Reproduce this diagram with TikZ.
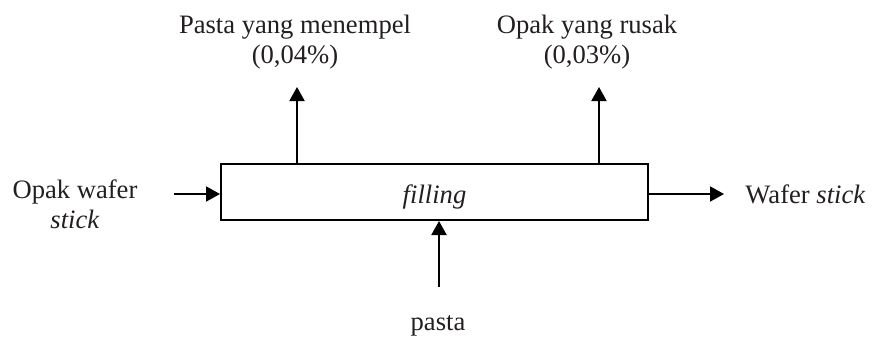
\documentclass[tikz,border=0pt]{standalone}
\usepackage{fontspec}
\setmainfont{Liberation Serif}
\usetikzlibrary{arrows.meta}
\definecolor{ink}{HTML}{231F20}
\begin{document}
\begin{tikzpicture}[
  x=0.5pt, y=-0.5pt,
  font=\fontsize{13.3}{15}\selectfont,
  every node/.style={text=ink},
  flow/.style={draw=black, line width=1pt, -{Triangle[length=7pt,width=7.5pt]}},
  procbox/.style={draw=black, line width=1pt, inner sep=0pt,
    minimum width=213.5pt, minimum height=28pt,
    text height=11pt, text depth=0pt},
  lbl/.style={align=center, inner sep=0pt, anchor=base}
]
\useasboundingbox (0,0) rectangle (872,337);

% process block
\node[procbox] (proc) at (434.5,192) {\textit{filling}};

% labels of the streams
\node[lbl] (inA)   at (75,228)    {Opak wafer\\\textit{stick}};
\node[lbl] (outP)  at (805.5,203) {Wafer \textit{stick}};
\node[lbl] (inB)   at (438,330)   {pasta};
\node[lbl] (lossA) at (295,63)    {Pasta yang menempel\\(0,04\%)};
\node[lbl] (lossB) at (587,63)    {Opak yang rusak\\(0,03\%)};

% free ends of the connectors
\coordinate (inAend)   at (174,194);
\coordinate (outPend)  at (724,194);
\coordinate (inBend)   at (439,287);
\coordinate (lossAend) at (297,87);
\coordinate (lossBend) at (599,87);

% streams
\draw[flow] (inAend) -- (inAend -| proc.west);
\draw[flow] (outPend -| proc.east) -- (outPend);
\draw[flow] (inBend) -- (inBend |- proc.south);
\draw[flow] (lossAend |- proc.north) -- (lossAend);
\draw[flow] (lossBend |- proc.north) -- (lossBend);
\end{tikzpicture}
\end{document}
